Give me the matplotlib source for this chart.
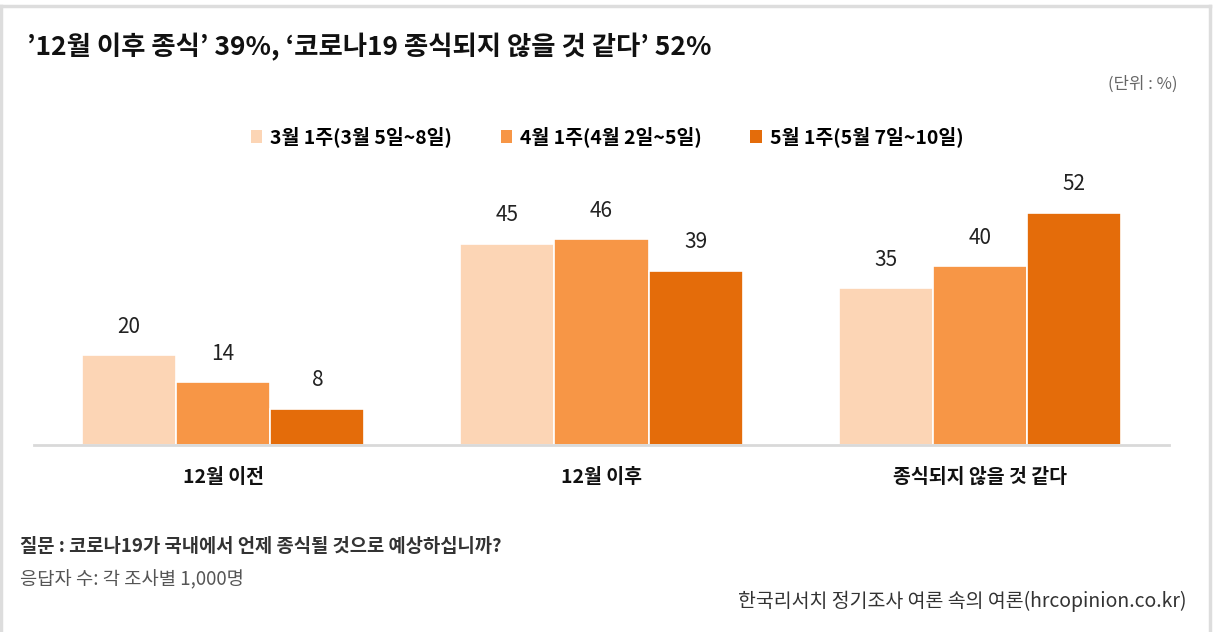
import matplotlib.pyplot as plt
from matplotlib.patches import Patch
import numpy as np

plt.rcParams['font.family'] = ['Noto Sans CJK KR', 'DejaVu Sans']

# --- datos ---
categories = ['12월 이전', '12월 이후', '종식되지 않을 것 같다']
series_names = ['3월 1주(3월 5일~8일)', '4월 1주(4월 2일~5일)', '5월 1주(5월 7일~10일)']
march = [20, 45, 35]
april = [14, 46, 40]
may = [8, 39, 52]
series_values = [march, april, may]
colors = ['#FCD5B5', '#F79646', '#E46C0A']

W, H = 1214, 632
fig = plt.figure(figsize=(W / 100, H / 100), dpi=100)

# marco gris (sin línea inferior)
border = dict(color='#dddddd', lw=2.5, transform=fig.transFigure)
fig.add_artist(plt.Line2D([1.5 / W, 1.5 / W], [0, 1 - 6 / H], **border))
fig.add_artist(plt.Line2D([1.5 / W, 1210 / W], [1 - 6 / H, 1 - 6 / H], **border))
fig.add_artist(plt.Line2D([1210 / W, 1210 / W], [0, 1 - 6 / H], **border))

# ejes en píxeles: izquierda 34, derecha 1169, base 444.5, arriba 159
ax = fig.add_axes([34 / W, 1 - 444.5 / H, (1169 - 34) / W, (444.5 - 159) / H])

x = np.arange(len(categories))
width = 0.249
offsets = [-width, 0, width]
for vals, off, col in zip(series_values, offsets, colors):
    bars = ax.bar(x + off, vals, width, color=col, edgecolor='white', linewidth=1.2)
    for b in bars:
        h = b.get_height()
        ax.annotate(f'{h:g}', (b.get_x() + b.get_width() / 2, h), xytext=(0, 12.5),
                    textcoords='offset points', ha='center', va='bottom',
                    fontsize=15, color='#222222')

ax.set_xlim(-0.5, 2.5)
ax.set_ylim(0, 64)
ax.set_xticks(x)
ax.set_xticklabels(categories, fontsize=14, fontweight='bold', color='#111111')
ax.tick_params(axis='x', length=0, pad=17)
ax.set_yticks([])
for s in ['top', 'right', 'left']:
    ax.spines[s].set_visible(False)
ax.spines['bottom'].set_color('#d9d9d9')
ax.spines['bottom'].set_linewidth(2)

# leyenda
handles = [Patch(facecolor=c, edgecolor='none') for c in colors]
fig.legend(handles, series_names, loc='center', bbox_to_anchor=(607 / W, 1 - 137 / H),
           ncol=3, frameon=False, handlelength=0.6, handleheight=0.6,
           handletextpad=0.4, columnspacing=2.5, prop={'size': 14, 'weight': 'bold'})

# textos
fig.text(27 / W, 1 - 47 / H, "’12월 이후 종식’ 39%, ‘코로나19 종식되지 않을 것 같다’ 52%",
         fontsize=19, fontweight='bold', color='#111111', va='center', ha='left')
fig.text(1178 / W, 1 - 84 / H, '(단위 : %)', fontsize=12, color='#666666', ha='right', va='center')
fig.text(20 / W, 1 - 546 / H, '질문 : 코로나19가 국내에서 언제 종식될 것으로 예상하십니까?',
         fontsize=13.5, fontweight='bold', color='#333333', ha='left', va='center')
fig.text(20 / W, 1 - 580 / H, '응답자 수: 각 조사별 1,000명', fontsize=13.5, color='#555555', ha='left', va='center')
fig.text(1187 / W, 1 - 601 / H, '한국리서치 정기조사 여론 속의 여론(hrcopinion.co.kr)',
         fontsize=14, color='#333333', ha='right', va='center')

fig.savefig('out.png', dpi=100)
